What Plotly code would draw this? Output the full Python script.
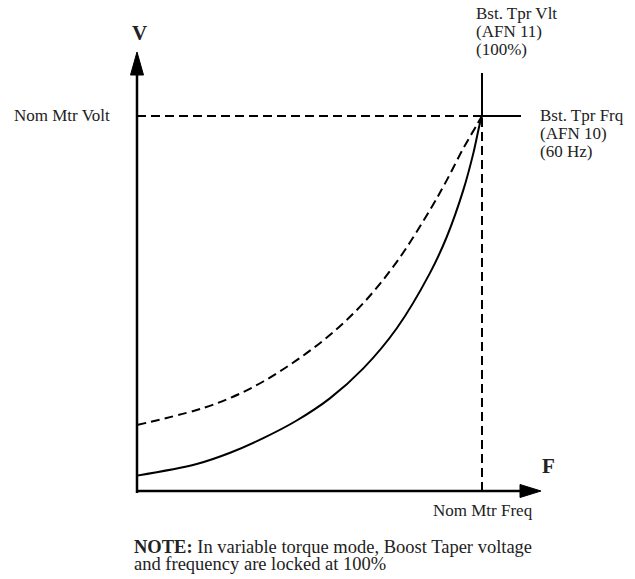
import plotly.graph_objects as go

# Normalised frequency (1.0 = Nom Mtr Freq) and voltage (1.0 = Nom Mtr Volt)
freq_solid = [0.0, 0.173, 0.270, 0.366, 0.463, 0.559, 0.656, 0.753, 0.849, 0.898, 0.946, 0.975, 0.994, 1.0]
volt_solid = [0.041, 0.072, 0.102, 0.141, 0.188, 0.247, 0.327, 0.434, 0.581, 0.678, 0.803, 0.901, 0.981, 1.0]

freq_dashed = [0.0, 0.173, 0.270, 0.366, 0.463, 0.559, 0.656, 0.753, 0.849, 0.898, 0.946, 0.985, 1.0]
volt_dashed = [0.176, 0.216, 0.248, 0.292, 0.349, 0.416, 0.501, 0.611, 0.749, 0.829, 0.914, 0.976, 1.0]

nominal_freq = 1.0
nominal_volt = 1.0

W, H = 635, 579
FONT = "Liberation Serif"
INK = "#000000"

# axis ranges: origin sits at (137, 491) px, nominal point at (482, 116) px
XSCALE, YSCALE = 345.0, 375.0
x_range = [-137 / XSCALE, (W - 137) / XSCALE]
y_range = [-(H - 491) / YSCALE, 491 / YSCALE]


def px_x(p):
    return (p - 137) / XSCALE


def px_y(p):
    return (491 - p) / YSCALE


fig = go.Figure()

fig.add_trace(go.Scatter(
    x=freq_dashed, y=volt_dashed, mode="lines",
    line=dict(color=INK, width=2, dash="9px,5px", shape="spline", smoothing=1),
    hoverinfo="skip", showlegend=False))
fig.add_trace(go.Scatter(
    x=freq_solid, y=volt_solid, mode="lines",
    line=dict(color=INK, width=2, shape="spline", smoothing=1),
    hoverinfo="skip", showlegend=False))

shapes = []
# axes with arrowheads
y_tip, y_base = px_y(52), px_y(75)
x_tip, x_base = px_x(541), px_x(520)
hw_x = 6.5 / XSCALE
hw_y = 6.5 / YSCALE
shapes.append(dict(type="line", xref="x", yref="y", x0=0, y0=px_y(493), x1=0, y1=y_base,
                   line=dict(color=INK, width=2.5)))
shapes.append(dict(type="line", xref="x", yref="y", x0=px_x(136), y0=0, x1=x_base, y1=0,
                   line=dict(color=INK, width=2.5)))
shapes.append(dict(type="path", xref="x", yref="y",
                   path=f"M {-hw_x},{y_base} L 0,{y_tip} L {hw_x},{y_base} Z",
                   fillcolor=INK, line=dict(color=INK, width=1)))
shapes.append(dict(type="path", xref="x", yref="y",
                   path=f"M {x_base},{-hw_y} L {x_tip},0 L {x_base},{hw_y} Z",
                   fillcolor=INK, line=dict(color=INK, width=1)))

# nominal voltage / frequency guide lines
shapes.append(dict(type="line", xref="x", yref="y", x0=0, y0=nominal_volt,
                   x1=nominal_freq, y1=nominal_volt,
                   line=dict(color=INK, width=2, dash="9px,5px")))
shapes.append(dict(type="line", xref="x", yref="y", x0=nominal_freq, y0=nominal_volt,
                   x1=px_x(521), y1=nominal_volt, line=dict(color=INK, width=2)))
shapes.append(dict(type="line", xref="x", yref="y", x0=nominal_freq, y0=0,
                   x1=nominal_freq, y1=nominal_volt,
                   line=dict(color=INK, width=2, dash="9px,5px")))
shapes.append(dict(type="line", xref="x", yref="y", x0=nominal_freq, y0=nominal_volt,
                   x1=nominal_freq, y1=px_y(73), line=dict(color=INK, width=2)))


def label(text, x, y, size=17, xanchor="left", bold=False):
    if bold:
        text = f"<b>{text}</b>"
    return dict(text=text, x=x / W, y=1 - y / H, xref="paper", yref="paper",
                xanchor=xanchor, yanchor="middle", showarrow=False,
                font=dict(family=FONT, size=size, color="#222222"))


annotations = [
    label("V", 139, 33, size=21, xanchor="center", bold=True),
    label("F", 548, 466, size=21, xanchor="center", bold=True),
    label("Nom Mtr Volt", 112, 116, xanchor="right"),
    label("Nom Mtr Freq", 535, 510, xanchor="right"),
    label("Bst. Tpr Vlt", 474, 13),
    label("(AFN 11)", 474, 31),
    label("(100%)", 474, 49),
    label("Bst. Tpr Frq", 538, 115),
    label("(AFN 10)", 538, 133),
    label("(60 Hz)", 538, 151),
    label("<b>NOTE:</b> In variable torque mode, Boost Taper voltage", 132, 547, size=18.5),
    label("and frequency are locked at 100%", 132, 564, size=18.5),
]

fig.update_layout(
    width=W, height=H,
    margin=dict(l=0, r=0, t=0, b=0),
    paper_bgcolor="white", plot_bgcolor="white",
    xaxis=dict(range=x_range, visible=False, fixedrange=True),
    yaxis=dict(range=y_range, visible=False, fixedrange=True),
    shapes=shapes, annotations=annotations, showlegend=False,
)

fig.write_html("out.html")
